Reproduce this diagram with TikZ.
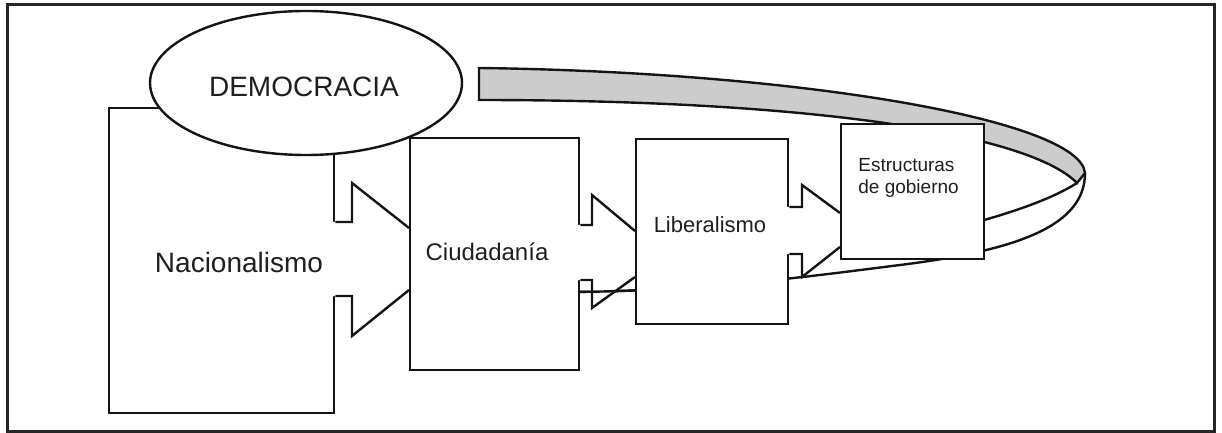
\documentclass[tikz,border=0pt]{standalone}
\usepackage{fontspec}
\setmainfont{Liberation Sans}
\usetikzlibrary{calc,shapes.geometric}

% Block arrow between two boxes: the shaft leaves the right side of #1,
% the head is cut off by the left side of #2.
% #3/#4 shaft top/bottom, #5 x of the head base, #6/#7 head top/bottom,
% #8/#9 where the head edges meet the target box.
\newcommand\blockarrow[9]{%
  \fill[white] ($(#1.east |- 0,#3)+(-2.5,0)$) -- (#5,#3) -- (#5,#6)
    -- ($(#2.west |- 0,#8)+(-1.3,0)$) -- ($(#2.west |- 0,#9)+(-1.3,0)$)
    -- (#5,#7) -- (#5,#4) -- ($(#1.east |- 0,#4)+(-2.5,0)$) -- cycle;
  \draw[edge] (#1.east |- 0,#3) -- (#5,#3) -- (#5,#6) -- (#2.west |- 0,#8);
  \draw[edge] (#2.west |- 0,#9) -- (#5,#7) -- (#5,#4) -- (#1.east |- 0,#4);
}

\begin{document}
\begin{tikzpicture}[x=0.5pt, y=-0.5pt,
  edge/.style={line width=1.2pt, draw=black!92, line join=miter},
  box/.style={draw=black!92, line width=1.2pt, fill=white, inner sep=0pt,
    anchor=north west},
  label/.style={inner sep=0pt, text=black!88}]
\useasboundingbox (0,0) rectangle (1222,433);

% frame
\draw[line width=1.5pt, black!85] (7,5) rectangle (1214,431);

% the returning ribbon: shaded back side ...
\filldraw[edge, fill=gray!40]
  (479,68) .. controls (800,72) and (1080,120) .. (1085,173)
  -- (1077,183) .. controls (1030,135) and (820,100) .. (479,100) -- cycle;
% ... and its front side sweeping back to the left
\draw[edge] (1085,173) .. controls (1085,225) and (1020,250) .. (900,265)
  .. controls (820,275) and (700,292) .. (560,292);
\draw[edge] (1077,183) .. controls (1050,200) and (1010,213) .. (970,224);

% boxes
\node[box, minimum width=112.5pt, minimum height=152.5pt] (nac) at (108,107) {};
\node[box, minimum width=84.5pt,  minimum height=116pt]   (ciu) at (409,137) {};
\node[box, minimum width=76pt,    minimum height=92.5pt]  (lib) at (635,138) {};
\node[box, minimum width=71.5pt,  minimum height=67.5pt]  (est) at (840,123) {};

% arrows between the boxes
\blockarrow{nac}{ciu}{222}{296}{352}{183}{336}{228}{290}
\blockarrow{ciu}{lib}{225}{280}{592}{195}{308}{231}{277}
\blockarrow{lib}{est}{207}{254}{802}{185}{277}{213}{247}

% ribbon edge seen in the gap between Ciudadanía and Liberalismo
\begin{scope}
  \clip (ciu.north east) rectangle (lib.south west);
  \draw[edge] (900,265) .. controls (820,275) and (700,292) .. (560,292);
\end{scope}

% ellipse on top
\node[draw=black!92, line width=1.2pt, fill=white, ellipse, inner sep=0pt,
  minimum width=156pt, minimum height=72pt] (dem) at (306,83) {};

% texts
\node[label, font=\fontsize{14}{17}\selectfont] (demT) at (304,87) {DEMOCRACIA};
\node[label, font=\fontsize{14}{17}\selectfont] (nacT) at (239,262) {Nacionalismo};
\node[label, font=\fontsize{12}{14}\selectfont] (ciuT) at (487,252) {Ciudadanía};
\node[label, font=\fontsize{11}{13}\selectfont] (libT) at (710,225) {Liberalismo};
\node[label, font=\fontsize{9.5}{11}\selectfont, align=left, anchor=west]
  (estT) at (858,178) {Estructuras\\de gobierno};
\end{tikzpicture}
\end{document}
